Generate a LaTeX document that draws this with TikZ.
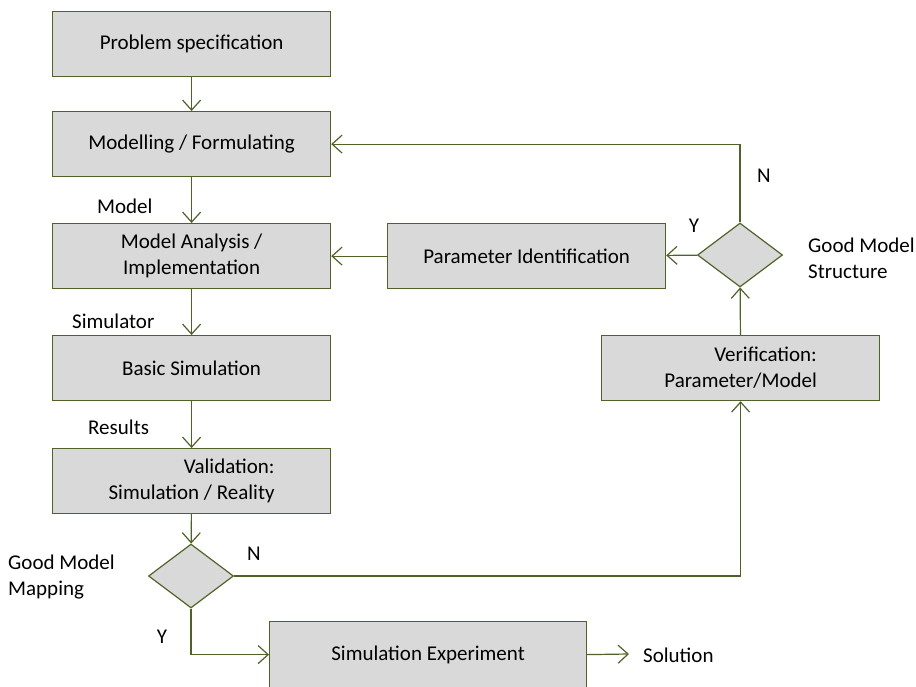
\documentclass[tikz,border=0pt]{standalone}
\usepackage{fontspec}
\setmainfont{Carlito}
\usetikzlibrary{arrows.meta,shapes.geometric}
\definecolor{edge}{RGB}{79,98,40}
\definecolor{boxfill}{RGB}{217,217,217}
\tikzset{
  txt/.style={font=\fontsize{21}{26}\selectfont},
  stepbox/.style={txt, draw=edge, fill=boxfill, line width=1.2pt, minimum width=278pt, minimum height=65pt, inner sep=0pt, anchor=north west},
  decision/.style={draw=edge, fill=boxfill, line width=1.2pt, diamond, inner sep=0pt, minimum width=85pt, minimum height=64pt, aspect=1.33},
  flow/.style={draw=edge, line width=1.2pt, -{Straight Barb[length=10pt,width=18pt,line width=1.2pt]}},
  lbl/.style={txt, inner sep=0pt}
}
\begin{document}
\begin{tikzpicture}[x=1pt,y=-1pt]
\useasboundingbox (0,0) rectangle (916,686);
% main column
\node[stepbox] (spec) at (52,11) {Problem specification};
\node[stepbox] (model) at (52,111) {Modelling / Formulating};
\node[stepbox, align=center] (impl) at (52,223) {Model Analysis /\\Implementation};
\node[stepbox] (basic) at (52,335) {Basic Simulation};
\node[stepbox, align=right] (valid) at (52,448) {Validation:\\Simulation / Reality};
\node[decision] (mapq) at (191,576) {};
\node[stepbox, minimum width=317pt, minimum height=66pt] (exper) at (269,621) {Simulation Experiment};
\coordinate (sol) at (629,654);
\node[lbl, anchor=west] (soltext) at (643,655) {Solution};
% right column
\node[stepbox] (ident) at (387,223) {Parameter Identification};
\node[decision] (structq) at (740,255) {};
\node[stepbox, align=right] (verif) at (601,335) {Verification:\\Parameter/Model};
% connectors
\draw[flow] (spec) -- (model);
\draw[flow] (model) -- (impl);
\draw[flow] (impl) -- (basic);
\draw[flow] (basic) -- (valid);
\draw[flow] (valid) -- (mapq);
\draw[flow] (mapq.south) |- (exper.west);
\draw[flow] (exper.east) -- (sol);
\draw[flow] (mapq.east) -| (verif.south);
\draw[flow] (verif) -- (structq);
\draw[flow] (structq) -- (ident);
\draw[flow] (ident) -- (impl);
\draw[flow] (structq.north) |- (model.east);
% labels
\node[lbl, anchor=west] at (97,206) {Model};
\node[lbl, anchor=west] at (72,321) {Simulator};
\node[lbl, anchor=west] at (88,427) {Results};
\node[lbl] at (254,554) {N};
\node[lbl] at (162,637) {Y};
\node[lbl, align=left, anchor=west] at (8,577) {Good Model\\Mapping};
\node[lbl] at (694,226) {Y};
\node[lbl] at (764,176) {N};
\node[lbl, align=left, anchor=west] at (808,258) {Good Model\\Structure};
\end{tikzpicture}
\end{document}
